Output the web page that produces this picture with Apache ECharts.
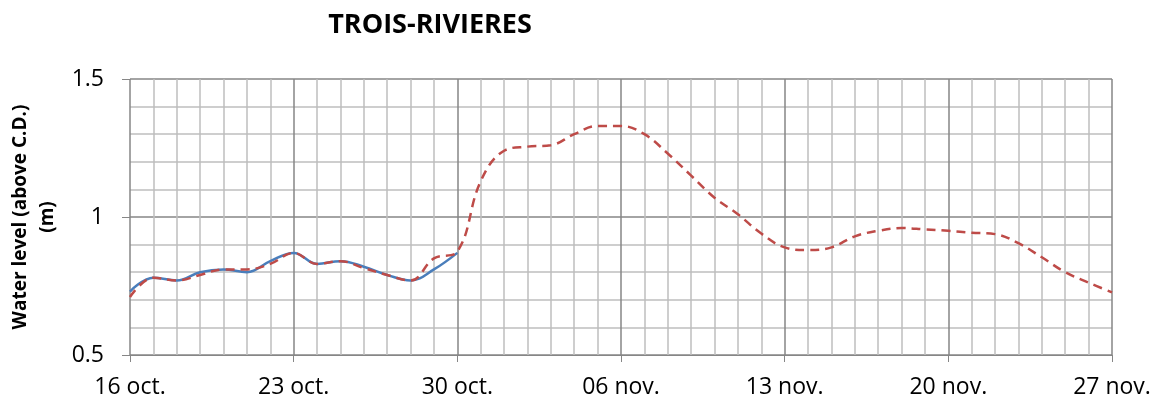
<!DOCTYPE html>
<html>
<head>
<meta charset="utf-8">
<script src="https://cdn.jsdelivr.net/npm/echarts@6/dist/echarts.min.js"></script>
<style>
  html, body { margin: 0; padding: 0; background: #fff; }
  #chart { width: 1155px; height: 404px; }
</style>
</head>
<body>
<div id="chart"></div>
<script>
// tick labels, one every 7 days from 16 oct.
var tickLabels = ['16 oct.', '23 oct.', '30 oct.', '06 nov.', '13 nov.', '20 nov.', '27 nov.'];

// observed (solid blue), day 0 = 16 oct.
var observed = [0.73, 0.78, 0.77, 0.80, 0.81, 0.80, 0.84, 0.87, 0.83, 0.84,
                0.82, 0.79, 0.77, 0.81, 0.87];

// forecast (dashed red)
var forecast = [0.71, 0.78, 0.77, 0.79, 0.81, 0.81, 0.83, 0.87, 0.83, 0.84,
                0.815, 0.79, 0.77, 0.85, 0.875, 1.13, 1.24, 1.255, 1.26, 1.30,
                1.33, 1.33, 1.30, 1.23, 1.15, 1.07, 1.01, 0.94, 0.89, 0.88,
                0.89, 0.93, 0.95, 0.96, 0.955, 0.95, 0.943, 0.938, 0.905, 0.854,
                0.80, 0.762, 0.727];

function pairs(arr) {
	return arr.map(function (v, i) { return [i, v]; });
}

var myChart = echarts.init(document.getElementById('chart'));
var option = {
	animation: false,
	title: {
		text: 'TROIS-RIVIERES',
		left: 425,
		textAlign: 'center',
		top: 7,
		textStyle: { fontFamily: 'Open Sans', fontWeight: 'bold', fontSize: 27, color: '#000' }
	},
	grid: { left: 130, right: 43, top: 79, bottom: 49, outerBoundsMode: 'none' },
	xAxis: {
		type: 'value',
		min: 0,
		max: 42,
		interval: 7,
		axisLine: { show: true, lineStyle: { color: '#868686', width: 1 } },
		axisTick: { show: true, length: 7, lineStyle: { color: '#868686' } },
		axisLabel: {
			margin: 21,
			fontFamily: 'Open Sans',
			fontSize: 23,
			color: '#000',
			formatter: function (v) { return tickLabels[Math.round(v / 7)]; }
		},
		splitLine: { show: true, lineStyle: { color: '#868686', width: 1.5 } },
		minorTick: { show: false, splitNumber: 7 },
		minorSplitLine: { show: true, lineStyle: { color: '#bfbfbf', width: 1.5 } }
	},
	yAxis: {
		type: 'value',
		min: 0.5,
		max: 1.5,
		interval: 0.5,
		name: 'Water level (above C.D.)\n(m)',
		nameLocation: 'middle',
		nameGap: 66,
		nameTextStyle: { fontFamily: 'Open Sans', fontWeight: 'bold', fontSize: 19, color: '#000', lineHeight: 27 },
		axisLine: { show: false },
		axisTick: { show: true, length: 8, lineStyle: { color: '#868686' } },
		axisLabel: {
			margin: 26,
			fontFamily: 'Open Sans',
			fontSize: 23,
			color: '#000'
		},
		splitLine: { show: true, lineStyle: { color: '#868686', width: 1.5 } },
		minorTick: { show: false, splitNumber: 5 },
		minorSplitLine: { show: true, lineStyle: { color: '#bfbfbf', width: 1.5 } }
	},
	series: [
		{
			name: 'Forecast',
			type: 'line',
			data: pairs(forecast),
			smooth: 0.4,
			showSymbol: false,
			lineStyle: { color: '#be4b48', width: 2.5, type: [9, 6] },
			z: 3
		},
		{
			name: 'Observed',
			type: 'line',
			data: pairs(observed),
			smooth: 0.4,
			showSymbol: false,
			lineStyle: { color: '#4a7ebb', width: 2.5 },
			z: 2
		}
	]
};
myChart.setOption(option);
</script>
</body>
</html>
